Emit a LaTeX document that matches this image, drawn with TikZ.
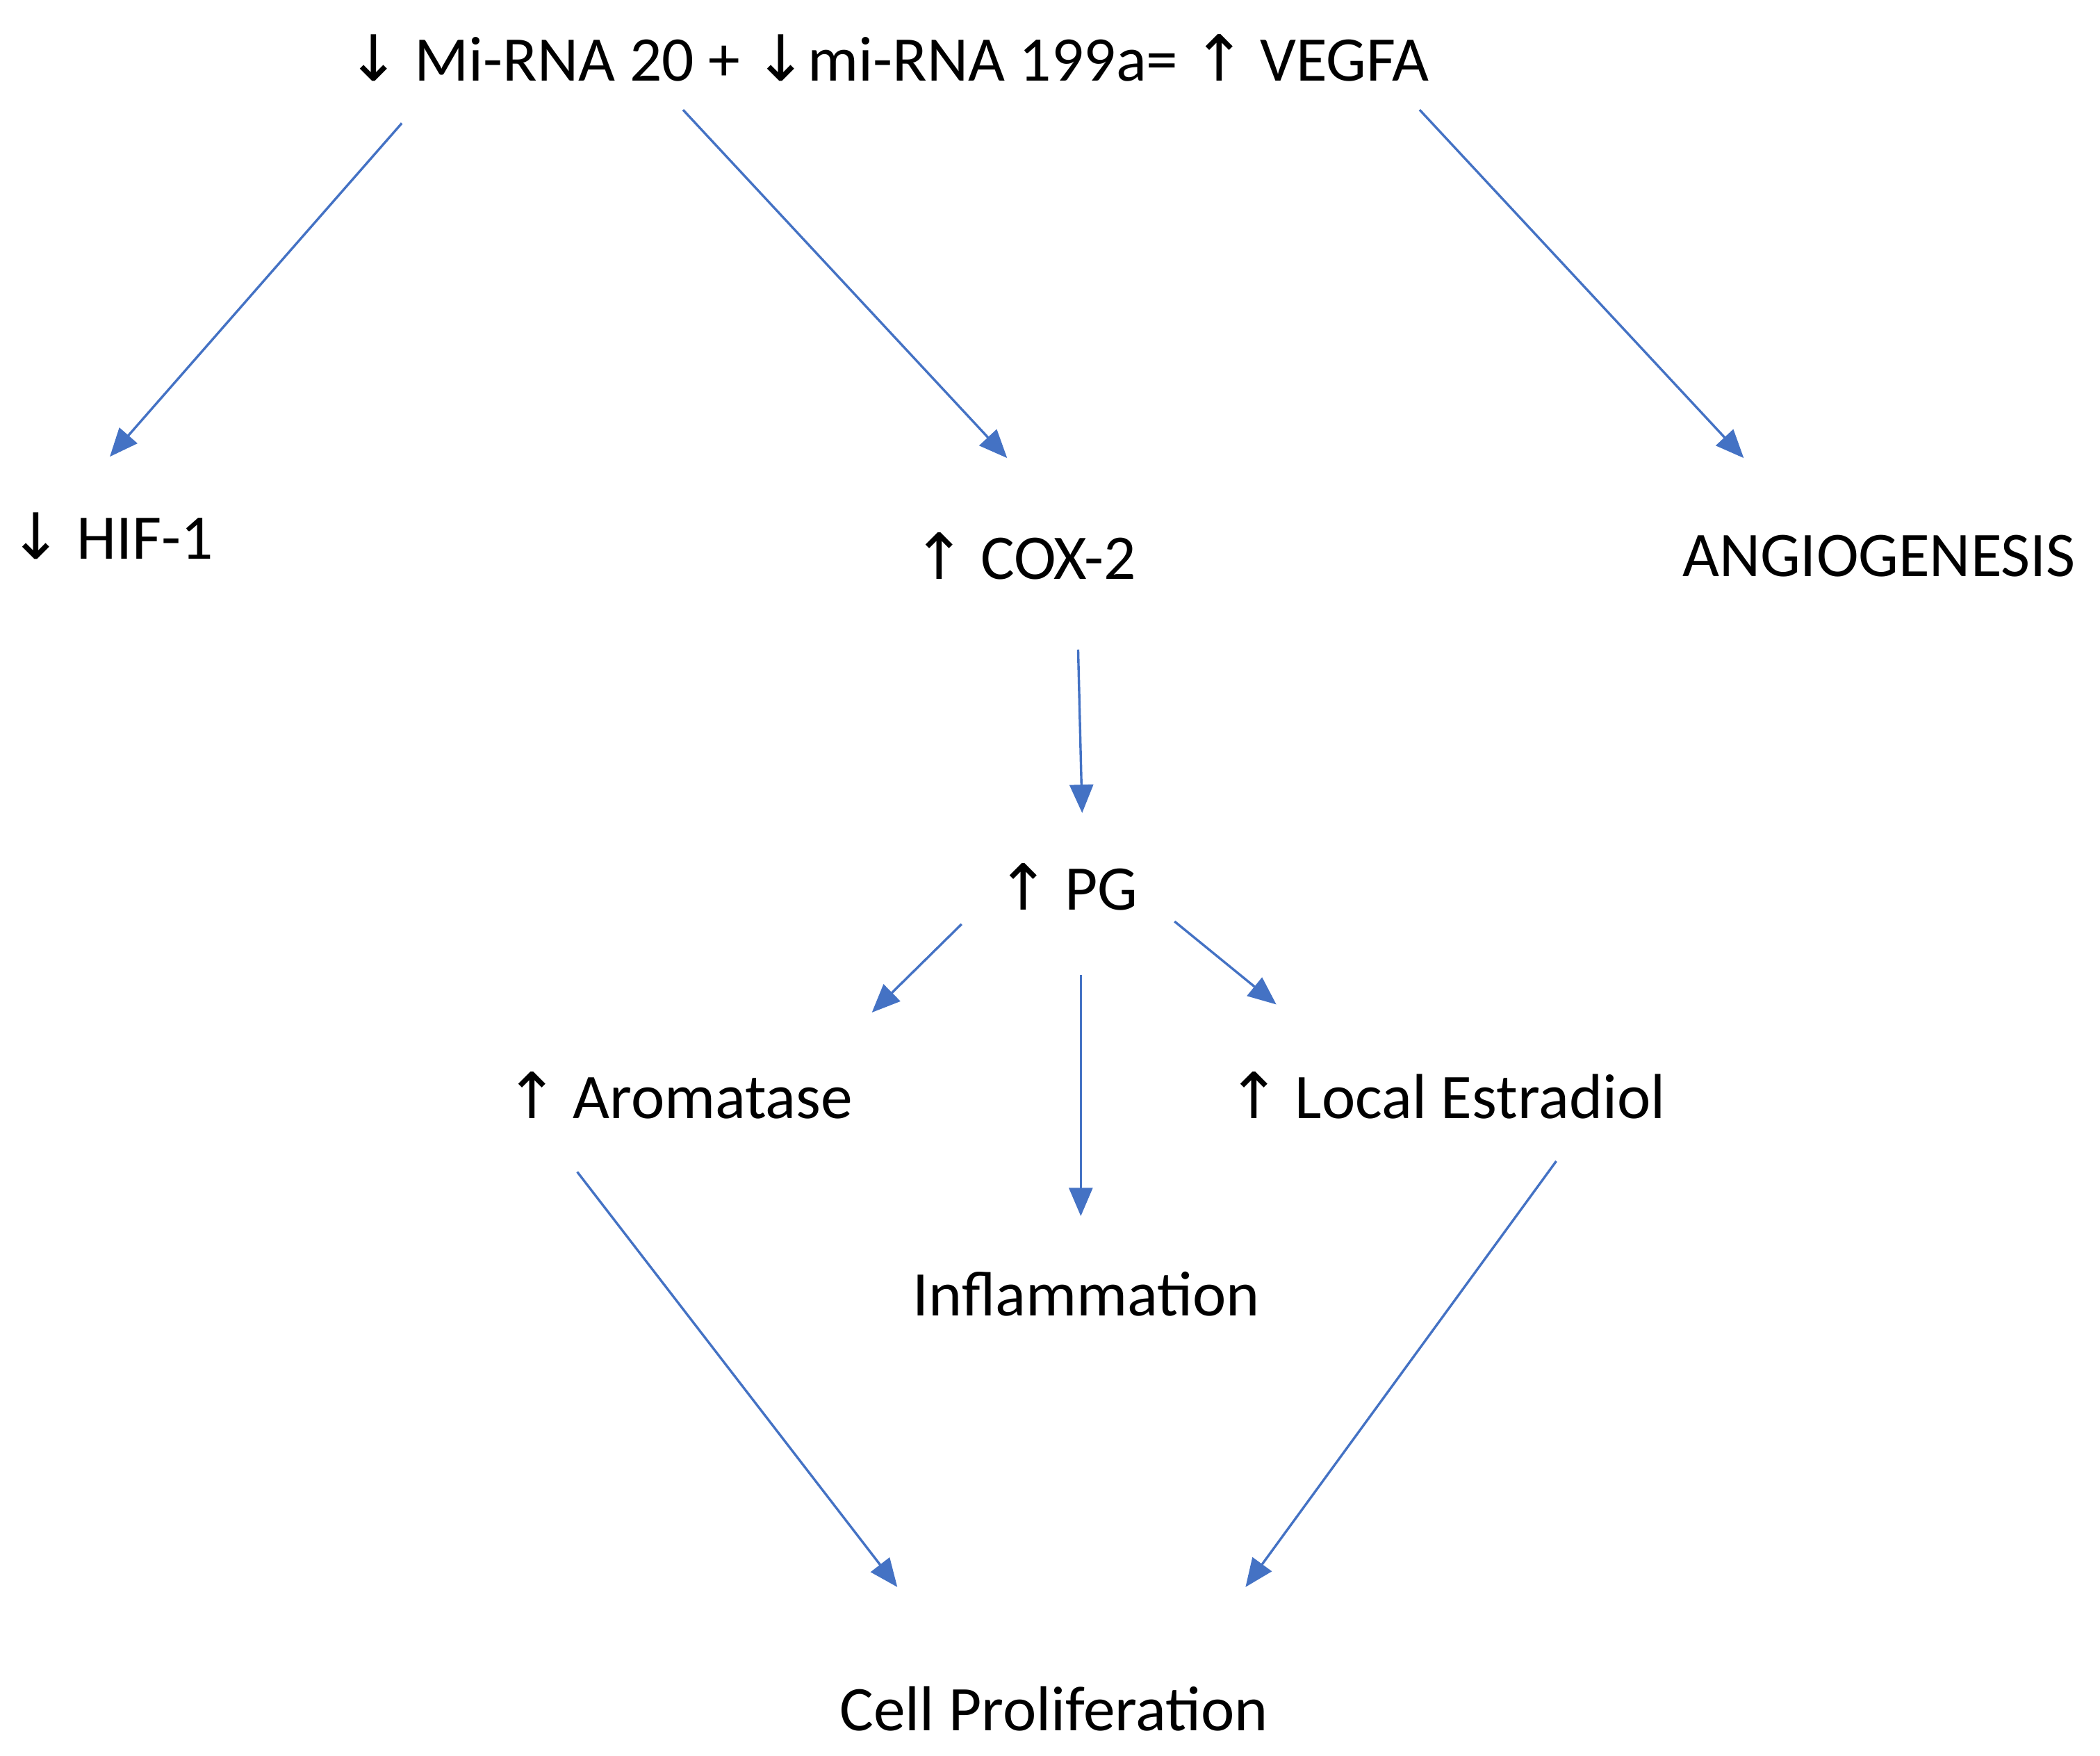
\documentclass[tikz,border=0pt]{standalone}
\usepackage{fontspec}
\setmainfont{Carlito}
\newfontfamily\arrf{DejaVu Sans}
\usetikzlibrary{arrows.meta}
\newcommand{\du}{{\arrf\symbol{"2193}}}
\newcommand{\uu}{{\arrf\symbol{"2191}}}
\begin{document}
\begin{tikzpicture}[x=0.01cm,y=-0.01cm,
  lbl/.style={font=\fontsize{13.5}{16}\selectfont, inner sep=0pt},
  arr/.style={draw=blue!40!cyan!20!blue!70!white, color={rgb,255:red,68;green,114;blue,196}, line width=0.5pt, -{Triangle[length=6pt,width=5pt]}}]
\useasboundingbox (0,0) rectangle (1568,1311);
\node[lbl] (top) at (663,43) {\du{} Mi-RNA 20 + \du{}mi-RNA 199a= \uu{} VEGFA};
\node[lbl] (hif) at (83,400) {\du{} HIF-1};
\node[lbl] (cox) at (765,415) {\uu{} COX-2};
\node[lbl] (ang) at (1403,415) {ANGIOGENESIS};
\node[lbl] (pg) at (797,662) {\uu{} PG};
\node[lbl] (aro) at (507,818) {\uu{} Aromatase};
\node[lbl] (est) at (1080,818) {\uu{} Local Estradiol};
\node[lbl] (inf) at (811,966) {Inflammation};
\node[lbl] (cell) at (787,1276) {Cell Proliferation};
\coordinate (a1) at (300,92); \coordinate (b1) at (82,341);
\coordinate (a2) at (510,82); \coordinate (b2) at (752,342);
\coordinate (a3) at (1060,82); \coordinate (b3) at (1302,342);
\coordinate (a4) at (805,485); \coordinate (b4) at (808,607);
\coordinate (a5) at (718,690); \coordinate (b5) at (651,756);
\coordinate (a6) at (877,688); \coordinate (b6) at (953,750);
\coordinate (a7) at (807,728); \coordinate (b7) at (807,908);
\coordinate (a8) at (431,875); \coordinate (b8) at (670,1185);
\coordinate (a9) at (1162,867); \coordinate (b9) at (930,1185);
\foreach \i in {1,...,9} \draw[arr] (a\i) -- (b\i);
\end{tikzpicture}
\end{document}
